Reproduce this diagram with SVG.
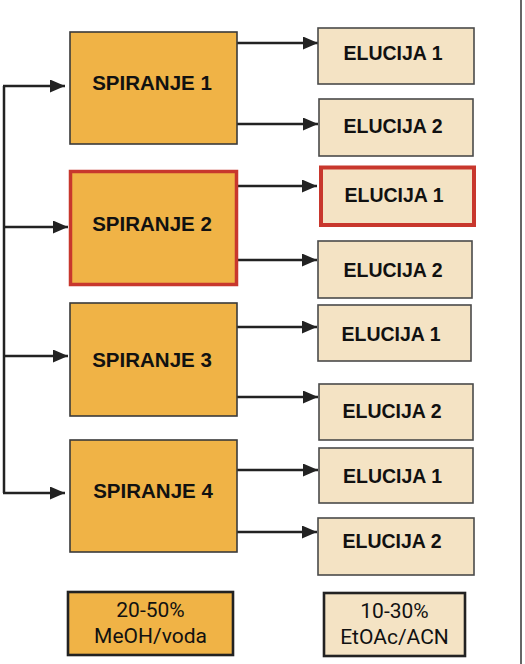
<svg xmlns="http://www.w3.org/2000/svg" width="525" height="664" viewBox="0 0 525 664">
<style>
.sp{fill:#F0B346;stroke:#3a3a3a;stroke-width:1.6}
.el{fill:#F4E3C4;stroke:#4a4a4a;stroke-width:1.6}
.hl{stroke:#C8372D;stroke-width:3.5}
.hl2{stroke:#C8372D;stroke-width:4}
.t{font-family:"Liberation Sans",Arial,sans-serif;font-weight:bold;fill:#111;text-anchor:middle}
.ts{font-size:20.5px}
.te{font-size:19.5px}
.lg{font-family:Roboto,"Liberation Sans",sans-serif;font-size:21px;fill:#111;text-anchor:middle}
.lgb{stroke:#222;stroke-width:2.6}
.c{stroke:#222;stroke-width:2.5;fill:none}
</style>
<defs>
<marker id="ah" markerUnits="userSpaceOnUse" markerWidth="15" markerHeight="13" refX="15" refY="6.5" orient="auto">
<path d="M0,0 L15,6.5 L0,13 z" fill="#222"/>
</marker>
</defs>
<line x1="521" y1="0" x2="521" y2="664" stroke="#666" stroke-width="2"/>
<g id="connectors">
<path class="c" d="M4,86 V493"/>
<line class="c" x1="3" y1="86" x2="65" y2="86" marker-end="url(#ah)"/>
<line class="c" x1="4" y1="227" x2="68" y2="227" marker-end="url(#ah)"/>
<line class="c" x1="4" y1="356" x2="68" y2="356" marker-end="url(#ah)"/>
<line class="c" x1="3" y1="493" x2="65" y2="493" marker-end="url(#ah)"/>
<line class="c" x1="237" y1="43" x2="318" y2="43" marker-end="url(#ah)"/>
<line class="c" x1="237" y1="124" x2="318" y2="124" marker-end="url(#ah)"/>
<line class="c" x1="237" y1="186" x2="317" y2="186" marker-end="url(#ah)"/>
<line class="c" x1="237" y1="260" x2="317" y2="260" marker-end="url(#ah)"/>
<line class="c" x1="237" y1="327" x2="317" y2="327" marker-end="url(#ah)"/>
<line class="c" x1="237" y1="397" x2="318" y2="397" marker-end="url(#ah)"/>
<line class="c" x1="231" y1="470" x2="318" y2="470" marker-end="url(#ah)"/>
<line class="c" x1="237" y1="532" x2="317" y2="532" marker-end="url(#ah)"/>
</g>
<g id="spiranje1"><rect class="sp" x="70" y="32" width="167" height="112"/><text class="t ts" x="152" y="89.5">SPIRANJE 1</text></g>
<g id="spiranje2"><rect class="sp hl" x="70.5" y="171.5" width="166" height="113"/><text class="t ts" x="152" y="231">SPIRANJE 2</text></g>
<g id="spiranje3"><rect class="sp" x="70" y="303" width="167" height="113"/><text class="t ts" x="152" y="366.5">SPIRANJE 3</text></g>
<g id="spiranje4"><rect class="sp" x="70" y="440" width="167" height="112"/><text class="t ts" x="153" y="498">SPIRANJE 4</text></g>
<g id="elucija1a"><rect class="el" x="318" y="28" width="156" height="56"/><text class="t te" x="393" y="60">ELUCIJA 1</text></g>
<g id="elucija2a"><rect class="el" x="319" y="99" width="154" height="57"/><text class="t te" x="393" y="133">ELUCIJA 2</text></g>
<g id="elucija1b"><rect class="el hl2" x="321" y="167.5" width="153" height="57.5"/><text class="t te" x="394" y="202">ELUCIJA 1</text></g>
<g id="elucija2b"><rect class="el" x="318" y="241" width="154" height="57"/><text class="t te" x="393" y="277">ELUCIJA 2</text></g>
<g id="elucija1c"><rect class="el" x="318" y="305" width="153" height="56"/><text class="t te" x="391" y="341">ELUCIJA 1</text></g>
<g id="elucija2c"><rect class="el" x="319" y="384" width="154" height="56"/><text class="t te" x="392" y="418">ELUCIJA 2</text></g>
<g id="elucija1d"><rect class="el" x="319" y="448" width="154" height="55"/><text class="t te" x="392.5" y="483">ELUCIJA 1</text></g>
<g id="elucija2d"><rect class="el" x="318" y="518" width="156" height="57"/><text class="t te" x="392" y="548">ELUCIJA 2</text></g>
<g id="legend1"><rect class="sp lgb" x="68" y="592" width="165" height="63"/><text class="lg" x="150.5" y="617">20-50%</text><text class="lg" x="150.5" y="643">MeOH/voda</text></g>
<g id="legend2"><rect class="el lgb" x="324" y="593" width="141" height="63"/><text class="lg" x="394.5" y="618">10-30%</text><text class="lg" x="394.5" y="644">EtOAc/ACN</text></g>
</svg>
